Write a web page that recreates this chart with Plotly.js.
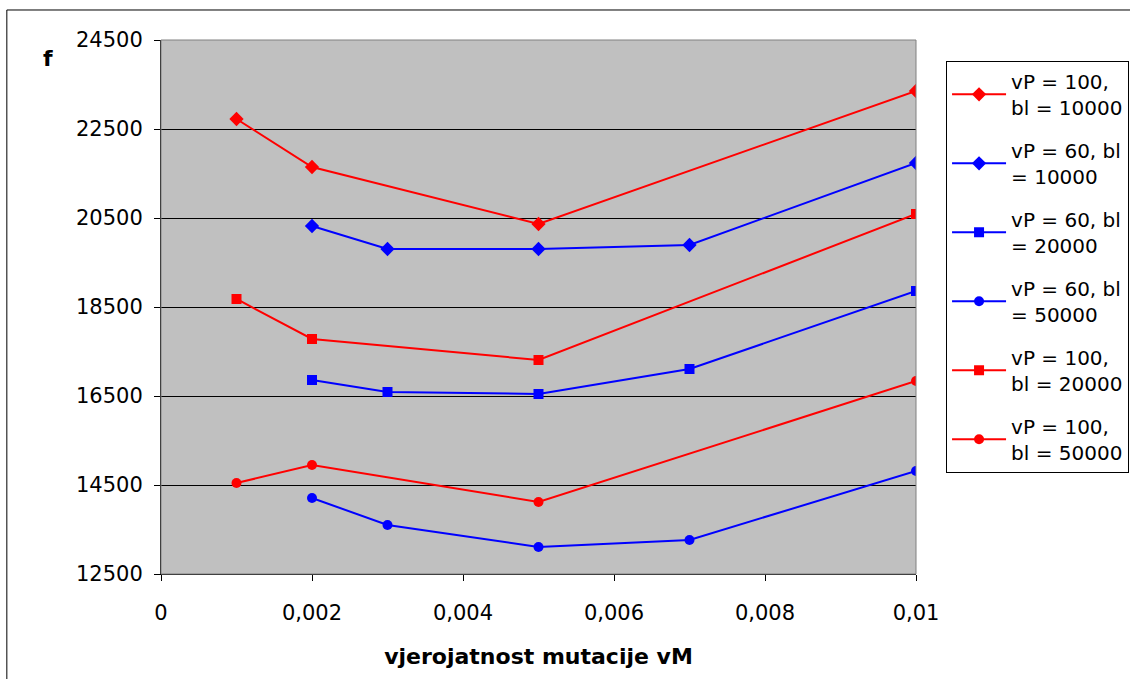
<!DOCTYPE html>
<html>
<head>
<meta charset="utf-8">
<script src="https://cdn.plot.ly/plotly-3.0.1.min.js"></script>
<style>html,body{margin:0;padding:0;background:#fff;}#chart{width:1130px;height:679px;}</style>
</head>
<body>
<div id="chart"></div>
<script>
// vjerojatnost mutacije vM
const vM_A = [0.001, 0.002, 0.005, 0.01];
const vM_B = [0.002, 0.003, 0.005, 0.007, 0.01];

// series values (f)
const f_vP100_bl10000 = [22725, 21646, 20365, 23354];
const f_vP60_bl10000  = [20320, 19803, 19803, 19893, 21736];
const f_vP60_bl20000  = [16860, 16590, 16545, 17107, 18860];
const f_vP60_bl50000  = [14208, 13601, 13107, 13264, 14815];
const f_vP100_bl20000 = [18680, 17781, 17309, 20590];
const f_vP100_bl50000 = [14545, 14949, 14118, 16837];

const seriesNames = [
  'vP = 100,<br>bl = 10000',
  'vP = 60, bl<br>= 10000',
  'vP = 60, bl<br>= 20000',
  'vP = 60, bl<br>= 50000',
  'vP = 100,<br>bl = 20000',
  'vP = 100,<br>bl = 50000'
];

const yTicks = [12500, 14500, 16500, 18500, 20500, 22500, 24500];
const xTicks = [0, 0.002, 0.004, 0.006, 0.008, 0.01];
const xTickText = ['0', '0,002', '0,004', '0,006', '0,008', '0,01'];

const FONT = 'DejaVu Sans, Liberation Sans, Arial, sans-serif';
const RED = '#FF0000', BLUE = '#0000FF';

function tr(x, y, name, color, symbol, size, i) {
  return {
    x: x, y: y, name: name, type: 'scatter', mode: 'lines+markers',
    legendgroup: 'g' + i,
    line: {color: color, width: 2},
    marker: {color: color, symbol: symbol, size: size, line: {width: 0}},
    hoverinfo: 'x+y'
  };
}

const data = [
  tr(vM_A, f_vP100_bl10000, seriesNames[0], RED, 'diamond', 11, 0),
  tr(vM_B, f_vP60_bl10000, seriesNames[1], BLUE, 'diamond', 11, 1),
  tr(vM_B, f_vP60_bl20000, seriesNames[2], BLUE, 'square', 10, 2),
  tr(vM_B, f_vP60_bl50000, seriesNames[3], BLUE, 'circle', 10, 3),
  tr(vM_A, f_vP100_bl20000, seriesNames[4], RED, 'square', 10, 4),
  tr(vM_A, f_vP100_bl50000, seriesNames[5], RED, 'circle', 10, 5)
];

const layout = {
  width: 1130, height: 679,
  margin: {l: 161, r: 214, t: 40, b: 105, pad: 0, autoexpand: false},
  paper_bgcolor: '#FFFFFF',
  plot_bgcolor: '#C0C0C0',
  font: {family: FONT, size: 20, color: '#000'},
  showlegend: true,
  xaxis: {
    range: [0, 0.01], tickvals: xTicks, ticktext: xTickText,
    showgrid: false, zeroline: false,
    showline: true, linecolor: '#000', linewidth: 1,
    ticks: 'outside', ticklen: 6, tickcolor: '#000',
    tickfont: {family: FONT, size: 21},
    ticklabelstandoff: 14,
    title: {text: '<b>vjerojatnost mutacije vM</b>', font: {family: FONT, size: 22}, standoff: 24},
    automargin: false, fixedrange: true
  },
  yaxis: {
    range: [12500, 24500], tickvals: yTicks, tickformat: 'd',
    showgrid: true, gridcolor: '#000', gridwidth: 1, zeroline: false,
    showline: true, linecolor: '#000', linewidth: 1,
    ticks: 'outside', ticklen: 6, tickcolor: '#000',
    tickfont: {family: FONT, size: 21},
    ticklabelstandoff: 7,
    automargin: false, fixedrange: true
  },
  legend: {
    x: 1.0398, xanchor: 'left', y: 0.961, yanchor: 'top',
    bgcolor: '#FFFFFF', bordercolor: '#000', borderwidth: 1,
    font: {family: FONT, size: 20},
    traceorder: 'grouped', tracegroupgap: 14,
    itemwidth: 54
  },
  shapes: [
    {type: 'rect', xref: 'paper', yref: 'paper', x0: 0, x1: 1, y0: 0, y1: 1,
     line: {color: '#808080', width: 1}, fillcolor: 'rgba(0,0,0,0)', layer: 'above'},
    {type: 'rect', xref: 'paper', yref: 'paper', x0: -0.2042, x1: 1.30, y0: -0.22, y1: 1.0562,
     line: {color: '#000', width: 1}, fillcolor: 'rgba(0,0,0,0)', layer: 'below'}
  ],
  annotations: [
    {text: '<b>f</b>', xref: 'paper', yref: 'paper', x: -0.1499, y: 0.966,
     xanchor: 'center', yanchor: 'middle', showarrow: false, font: {family: FONT, size: 22}}
  ]
};

Plotly.newPlot('chart', data, layout, {displayModeBar: false, staticPlot: true});
</script>
</body>
</html>
